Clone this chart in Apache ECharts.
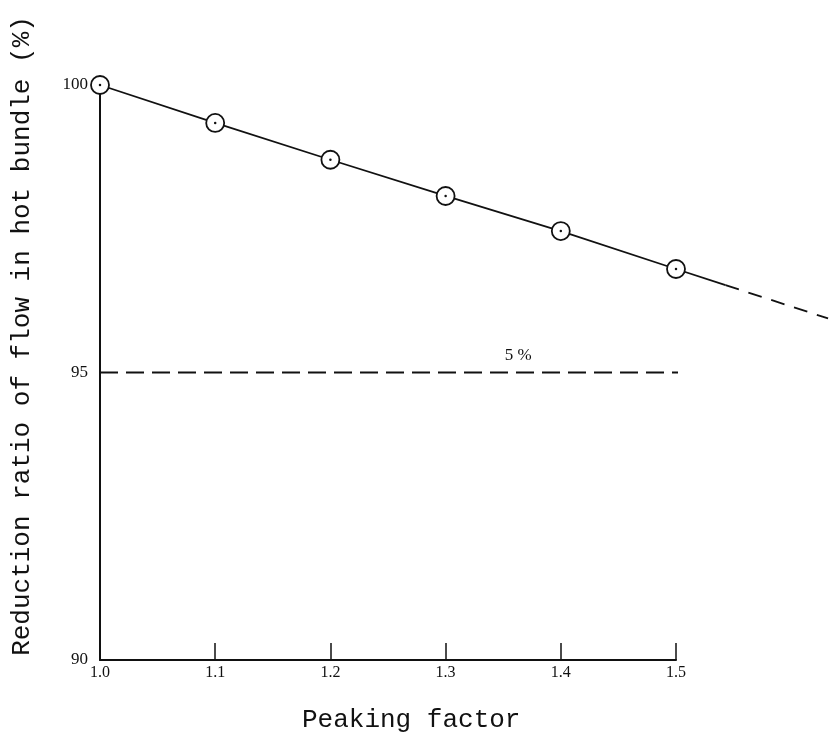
<!DOCTYPE html>
<html>
<head>
<meta charset="utf-8">
<script src="https://cdn.jsdelivr.net/npm/echarts@6/dist/echarts.min.js"></script>
<style>
  html, body { margin: 0; padding: 0; background: #fff; }
  #chart { width: 829px; height: 740px; }
</style>
</head>
<body>
<div id="chart"></div>
<script>
// Peaking factor vs. reduction ratio of flow in the hot bundle
const peakingFactor = [1.0, 1.1, 1.2, 1.3, 1.4, 1.5];
const flowRatio = [100.0, 99.34, 98.70, 98.07, 97.46, 96.80];

// continuation of the trend past the last computed point
const extSolidX = [1.5, 1.543];
const extSolidY = [96.80, 96.52];
const extDashX = [1.543, 1.632];
const extDashY = [96.52, 95.94];

// 5 % reduction reference level
const limitX = [1.0, 1.51];
const limitY = [95.0, 95.0];
const limitLabel = '5 %';
const limitLabelAt = [1.363, 95.0];

const xTicks = [1.0, 1.1, 1.2, 1.3, 1.4, 1.5];
const yTicks = [90, 95, 100];

const pairs = (xs, ys) => xs.map((x, i) => [x, ys[i]]);

const INK = '#111';
const W = 829;
const X0 = 1.0, X1 = 1.5, PX_LEFT = 100, PX_RIGHT = 676;
// hidden axis reaching the right edge with the same px-per-unit,
// so the trend can run on past the framed range
const pxPerUnit = (PX_RIGHT - PX_LEFT) / (X1 - X0);
const X1_WIDE = X0 + (W - PX_LEFT) / pxPerUnit;

const chart = echarts.init(document.getElementById('chart'), null, { renderer: 'canvas' });

const hiddenAxis = {
  show: false, type: 'value',
  splitLine: { show: false }, axisLine: { show: false },
  axisTick: { show: false }, axisLabel: { show: false }
};

chart.setOption({
  backgroundColor: '#fff',
  animation: false,
  grid: [
    { left: PX_LEFT, right: W - PX_RIGHT, top: 85, bottom: 80 },
    { left: PX_LEFT, right: 0, top: 85, bottom: 80 }
  ],
  xAxis: [
    {
      type: 'value', gridIndex: 0,
      min: X0, max: X1, interval: 0.1,
      splitLine: { show: false },
      axisLine: { show: true, lineStyle: { color: INK, width: 2 } },
      axisTick: { show: true, inside: true, length: 17, lineStyle: { color: INK, width: 1.5 } },
      axisLabel: {
        margin: 5, color: INK, fontFamily: 'Liberation Serif', fontSize: 16,
        formatter: v => (xTicks.some(t => Math.abs(t - v) < 1e-6) ? v.toFixed(1) : '')
      }
    },
    Object.assign({ gridIndex: 1, min: X0, max: X1_WIDE }, hiddenAxis)
  ],
  yAxis: [
    {
      type: 'value', gridIndex: 0,
      min: 90, max: 100, interval: 5,
      splitLine: { show: false },
      axisLine: { show: true, lineStyle: { color: INK, width: 2 } },
      axisTick: { show: false },
      axisLabel: {
        margin: 12, color: INK, fontFamily: 'Liberation Serif', fontSize: 17,
        formatter: v => (yTicks.includes(v) ? String(v) : '')
      }
    },
    Object.assign({ gridIndex: 1, min: 90, max: 100 }, hiddenAxis)
  ],
  graphic: [
    {
      type: 'text', left: 302, top: 707,
      style: { text: 'Peaking factor', font: '26px "Liberation Mono"', fill: INK }
    },
    {
      type: 'text', x: 22, y: 336, rotation: Math.PI / 2,
      style: {
        text: 'Reduction ratio of flow in hot bundle (%)',
        font: '26px "Liberation Mono"', fill: INK,
        align: 'center', verticalAlign: 'middle'
      }
    }
  ],
  series: [
    {
      name: 'limit',
      type: 'line',
      data: pairs(limitX, limitY),
      symbol: 'none',
      clip: false,
      lineStyle: { color: INK, width: 1.8, type: [18, 8] },
      z: 2
    },
    {
      name: 'limitLabel',
      type: 'scatter',
      data: [limitLabelAt],
      symbolSize: 0,
      itemStyle: { opacity: 1, color: INK },
      label: {
        show: true, position: 'top', distance: 8,
        formatter: limitLabel, color: INK,
        fontFamily: 'Liberation Serif', fontSize: 17
      },
      z: 3
    },
    {
      name: 'trendExtSolid',
      type: 'line',
      xAxisIndex: 1, yAxisIndex: 1,
      data: pairs(extSolidX, extSolidY),
      symbol: 'none',
      lineStyle: { color: INK, width: 1.8 },
      z: 2
    },
    {
      name: 'trendExtDash',
      type: 'line',
      xAxisIndex: 1, yAxisIndex: 1,
      data: pairs(extDashX, extDashY),
      symbol: 'none',
      lineStyle: { color: INK, width: 1.8, type: [14, 10] },
      z: 2
    },
    {
      name: 'flow',
      type: 'line',
      data: pairs(peakingFactor, flowRatio),
      symbol: 'circle',
      symbolSize: 18,
      clip: false,
      itemStyle: { color: '#fff', borderColor: INK, borderWidth: 1.8 },
      lineStyle: { color: INK, width: 1.8 },
      z: 4
    },
    {
      name: 'flowDots',
      type: 'scatter',
      data: pairs(peakingFactor, flowRatio),
      symbol: 'circle',
      symbolSize: 2.5,
      clip: false,
      itemStyle: { color: INK, opacity: 1 },
      z: 5
    }
  ]
});
</script>
</body>
</html>
